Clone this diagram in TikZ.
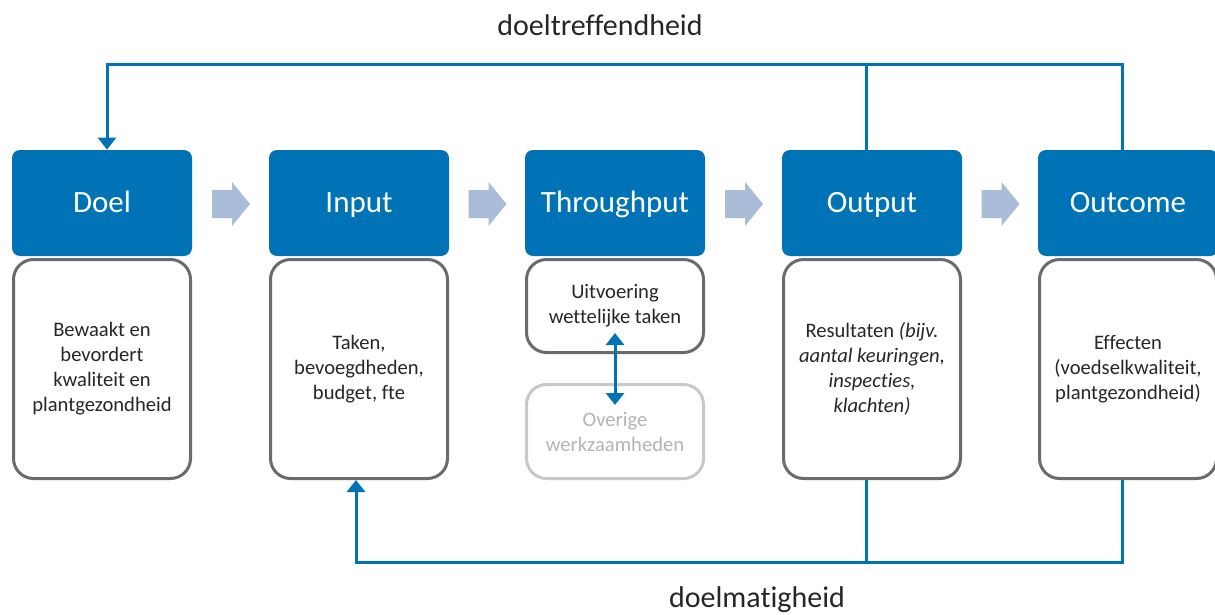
\documentclass[tikz,border=0pt]{standalone}
\usepackage{fontspec}
\setmainfont{Carlito}[Ligatures=NoCommon]
\usetikzlibrary{arrows.meta}
\definecolor{headblue}{HTML}{0073B6}
\definecolor{flowblue}{HTML}{A9BCD8}
\definecolor{boxgray}{HTML}{6B6B6B}
\definecolor{palegray}{HTML}{C8C8C8}
\definecolor{textgray}{HTML}{262626}
\begin{document}
\begin{tikzpicture}[x=0.5pt,y=-0.5pt]
\tikzstyle{head}=[fill=headblue,rounded corners=4pt,minimum width=90pt,minimum height=53pt,inner sep=0pt,text height=10pt,text depth=0pt,text=white,font=\fontsize{15.5}{18}\selectfont]
\tikzstyle{body}=[draw=boxgray,line width=1.5pt,rounded corners=10pt,minimum width=88.5pt,minimum height=109.5pt,inner sep=0pt,align=center,text=textgray,font=\fontsize{10.3}{12.5}\selectfont]
\tikzstyle{feedback}=[draw=headblue,line width=1.5pt]
\tikzstyle{tip}=[-{Triangle[width=9pt,length=6pt]}]
\useasboundingbox (0,0) rectangle (1215,615);
% lower boxes
\node[body] at (102,369) (doelbox) {Bewaakt en\\bevordert\\kwaliteit en\\plantgezondheid};
\node[body] at (359,369) (inputbox) {Taken,\\bevoegdheden,\\budget, fte};
\node[body,minimum height=46.5pt] at (615,306) (throughbox) {Uitvoering\\wettelijke taken};
\node[body,minimum height=47pt,draw=palegray,text=palegray!90!black] at (615,431.5) (otherbox) {Overige\\werkzaamheden};
\node[body] at (872,369) (outputbox) {Resultaten \textit{(bijv.}\\\textit{aantal keuringen,}\\\textit{inspecties,}\\\textit{klachten)}};
\node[body] at (1128,369) (outcomebox) {Effecten\\(voedselkwaliteit,\\plantgezondheid)};
% headers
\node[head] at (102,203) (doel) {Doel};
\node[head] at (359,203) (input) {Input};
\node[head] at (615,203) (through) {Throughput};
\node[head] at (872,203) (output) {Output};
\node[head] at (1128,203) (outcome) {Outcome};
% flow arrows
\fill[flowblue] (212,190) -- (232,190) -- (232,182) -- (250,204) -- (232,226) -- (232,218) -- (212,218) -- cycle;
\fill[flowblue] (468.5,190) -- (488.5,190) -- (488.5,182) -- (506.5,204) -- (488.5,226) -- (488.5,218) -- (468.5,218) -- cycle;
\fill[flowblue] (725,190) -- (745,190) -- (745,182) -- (763,204) -- (745,226) -- (745,218) -- (725,218) -- cycle;
\fill[flowblue] (981.5,190) -- (1001.5,190) -- (1001.5,182) -- (1019.5,204) -- (1001.5,226) -- (1001.5,218) -- (981.5,218) -- cycle;
% feedback loops
\coordinate (topleft) at (107,65);
\coordinate (topmid) at (866,65);
\coordinate (topright) at (1122,65);
\coordinate (botleft) at (356,562);
\coordinate (botmid) at (866,562);
\coordinate (botright) at (1122,562);
\draw[feedback,tip] (outcome.north -| topright) -- (topright) -- (topleft) -- (doel.north -| topleft);
\draw[feedback] (output.north -| topmid) -- (topmid);
\draw[feedback,tip] (outcomebox.south -| botright) -- (botright) -- (botleft) -- (inputbox.south -| botleft);
\draw[feedback] (outputbox.south -| botmid) -- (botmid);
\draw[feedback,{Triangle[width=9pt,length=6pt]}-{Triangle[width=9pt,length=6pt]}] ([yshift=10.5pt]throughbox.south) -- ([yshift=-11pt]otherbox.north);
\node[text=textgray,font=\fontsize{15}{18}\selectfont] at (600,25) (effect) {doeltreffendheid};
\node[text=textgray,font=\fontsize{15}{18}\selectfont] at (757,600) (effic) {doelmatigheid};
\end{tikzpicture}
\end{document}
